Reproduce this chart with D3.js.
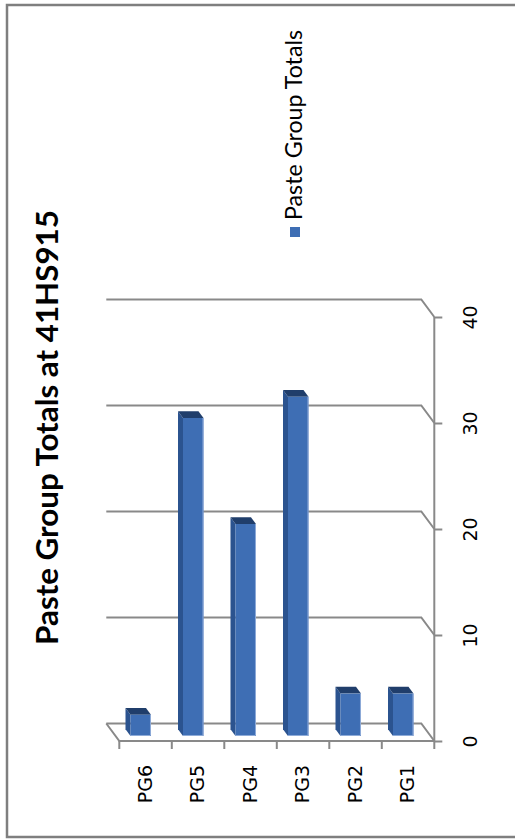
<!DOCTYPE html>
<html><head><meta charset="utf-8">
<script src="https://cdnjs.cloudflare.com/ajax/libs/d3/7.8.5/d3.min.js"></script>
<style>html,body{margin:0;padding:0;background:#fff;}svg{display:block;}</style>
</head><body>
<script>
const categories = ["PG1","PG2","PG3","PG4","PG5","PG6"];
const values = [4, 4, 32, 20, 30, 2];
const valueTicks = [0, 10, 20, 30, 40];
const chartTitle = "Paste Group Totals at 41HS915";
const seriesName = "Paste Group Totals";

const W = 515, H = 839;
const svg = d3.select("body").append("svg").attr("width", W).attr("height", H);
const FONT = "Lato, 'Open Sans', sans-serif";
const AXFONT = "'DejaVu Sans', sans-serif";
const GRID = "#898989";

// outer frame
svg.append("rect").attr("x", 7).attr("y", 5).attr("width", 530).attr("height", 832)
  .attr("fill", "#fff").attr("stroke", "#7f7f7f").attr("stroke-width", 2.5);

// scales (picture is the chart rotated a quarter turn)
const x = d3.scaleBand().domain(categories).range([434.3, 119.3]);
const y = d3.scaleLinear().domain([0, 40]).range([741, 317]);
const DX = -13, DY = -17.5;          // wall depth
const x0 = 119.3, x1 = 434.3;

function fitSize(sel, target) {
  const len = sel.node().getComputedTextLength();
  const fs = parseFloat(sel.style("font-size"));
  return fs * target / len;
}

// gridlines on back wall + side wall diagonal
const g = svg.append("g").attr("fill", "none").attr("stroke", GRID).attr("stroke-width", 2);
valueTicks.forEach(v => {
  g.append("path").attr("d", `M${x0 + DX},${y(v) + DY}H${x1 + DX}L${x1},${y(v)}`);
});
// floor
g.append("path").attr("d", `M${x0 + DX},${y(0) + DY}L${x0},${y(0)}H${x1}`);
// value axis
const yAxis = svg.append("g").attr("transform", `translate(${x1},0)`)
  .call(d3.axisRight(y).tickValues(valueTicks).tickSize(8).tickFormat(d3.format("d")));
yAxis.select(".domain").attr("stroke", GRID).attr("stroke-width", 2)
  .attr("d", `M0,${y(0)}V${y(40)}`);
yAxis.selectAll(".tick line").attr("stroke", GRID).attr("stroke-width", 2);
yAxis.selectAll(".tick text")
  .attr("x", null).attr("dy", null).attr("text-anchor", "middle")
  .attr("transform", "translate(43,0) rotate(-90)")
  .attr("fill", "#000").style("font-family", AXFONT).style("font-size", "19px");

// category ticks at band boundaries
const bounds = categories.map(c => x(c)).concat([x1]);
svg.append("g").selectAll("line").data(bounds).join("line")
  .attr("x1", d => d).attr("x2", d => d).attr("y1", y(0)).attr("y2", y(0) + 8)
  .attr("stroke", GRID).attr("stroke-width", 2);

// category labels
svg.append("g").selectAll("text").data(categories).join("text")
  .attr("transform", d => `translate(${x(d) + x.bandwidth() / 2 + 6},765) rotate(-90)`)
  .attr("text-anchor", "end")
  .style("font-family", AXFONT).style("font-size", "19px").attr("fill", "#000")
  .text(d => d);

// 3D bars
const bw = x.bandwidth() * 0.39, bOff = 11.2, ddx = -5, ddy = -6.8, lift = -5;
const bars = svg.append("g").selectAll("g").data(categories.map((c, i) => ({c, v: values[i]}))).join("g");
bars.each(function(d) {
  const s = d3.select(this);
  const fl = x(d.c) + bOff, fr = fl + bw, fb = y(0) + lift, ft = y(d.v) + lift;
  s.append("path").attr("fill", "#2b538f")
    .attr("d", `M${fl},${ft}L${fl + ddx},${ft + ddy}L${fl + ddx},${fb + ddy}L${fl},${fb}Z`);
  s.append("path").attr("fill", "#203e6b")
    .attr("d", `M${fl},${ft}L${fr},${ft}L${fr + ddx},${ft + ddy}L${fl + ddx},${ft + ddy}Z`);
  s.append("rect").attr("x", fl).attr("y", ft).attr("width", bw).attr("height", fb - ft)
    .attr("fill", "#3e6eb4");
  s.append("path").attr("fill", "none").attr("stroke", "#8eabd8").attr("stroke-width", 1)
    .attr("d", `M${fr - 0.5},${ft}V${fb - 0.5}H${fl}`);
});

// title
const t = svg.append("text").attr("transform", "translate(58,427.5) rotate(-90)")
  .attr("text-anchor", "middle").style("font-family", FONT).style("font-weight", "bold")
  .style("font-size", "28px").attr("fill", "#000").text(chartTitle);
t.style("font-size", fitSize(t, 435) + "px");

// legend
svg.append("rect").attr("x", 290).attr("y", 227).attr("width", 10).attr("height", 10).attr("fill", "#3e6eb4");
const lg = svg.append("text").attr("transform", "translate(302,220) rotate(-90)")
  .attr("text-anchor", "start").style("font-family", FONT).style("font-size", "22px")
  .attr("fill", "#000").text(seriesName);
lg.style("font-size", fitSize(lg, 190) + "px");
</script>
</body></html>
